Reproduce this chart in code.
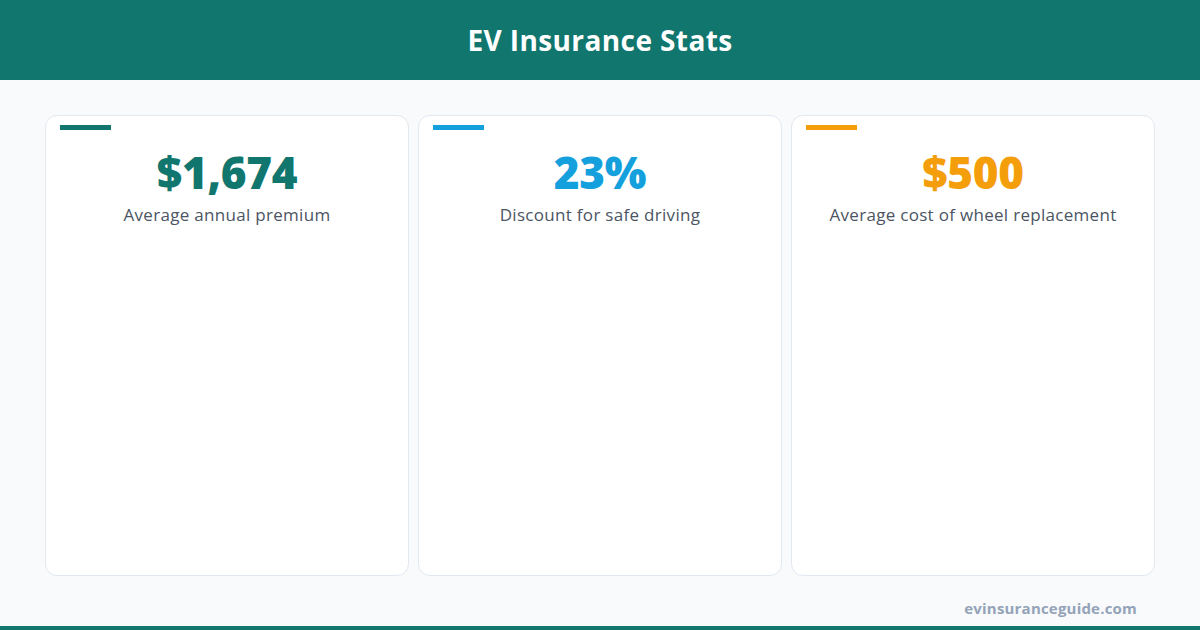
<!DOCTYPE html>
<html><head><meta charset="utf-8">
<script src="https://cdn.jsdelivr.net/npm/chart.js@4"></script>
<style>
html,body{margin:0;padding:0;width:1200px;height:630px;overflow:hidden;background:#f8fafc;font-family:"Open Sans","Inter",sans-serif;}
#hdr{position:absolute;left:0;top:0;width:1200px;height:80px;background:#10766e;color:#fff;font-weight:700;font-size:28px;display:flex;align-items:center;justify-content:center;letter-spacing:0.4px;}
.card{position:absolute;top:115px;width:364px;height:461px;background:#fff;border:1px solid #e2e8f0;border-radius:12px;box-sizing:border-box;}
.bar{position:absolute;left:14px;top:9px;width:51px;height:5px;}
.val{position:absolute;left:0;width:100%;top:142px;text-align:center;font-weight:800;font-size:44px;line-height:60px;letter-spacing:-0.3px;}
.lbl{position:absolute;left:0;width:100%;top:202px;text-align:center;font-size:17px;font-weight:500;color:#4b5563;line-height:26px;letter-spacing:0.3px;}
#foot{position:absolute;right:63px;top:598px;font-size:15px;font-weight:700;color:#94a3b8;letter-spacing:0.2px;}
#bot{position:absolute;left:0;top:626px;width:1200px;height:4px;background:#10766e;}
</style></head><body>
<div id="hdr"></div>
<div id="cards"></div>
<div id="foot"></div>
<div id="bot"></div>
<script>
const title = "EV Insurance Stats";
const values = ["$1,674", "23%", "$500"];
const labels = ["Average annual premium", "Discount for safe driving", "Average cost of wheel replacement"];
const colors = ["#10766e", "#14a0dc", "#f59e0b"];
const source = "evinsuranceguide.com";

document.getElementById('hdr').textContent = title;
document.getElementById('foot').textContent = source;
const lefts = [45, 418, 791];
const cont = document.getElementById('cards');
values.forEach((v, i) => {
  const c = document.createElement('div');
  c.className = 'card';
  c.style.left = lefts[i] + 'px';
  c.innerHTML = '<div class="bar" style="background:' + colors[i] + '"></div>';
  cont.appendChild(c);
  const val = document.createElement('div');
  val.className = 'val'; val.style.color = colors[i];
  val.style.left = lefts[i] + 'px'; val.style.width = '364px';
  val.textContent = v;
  document.body.appendChild(val);
  const lb = document.createElement('div');
  lb.className = 'lbl';
  lb.style.left = lefts[i] + 'px'; lb.style.width = '364px';
  lb.textContent = labels[i];
  document.body.appendChild(lb);
});
</script>
</body></html>
